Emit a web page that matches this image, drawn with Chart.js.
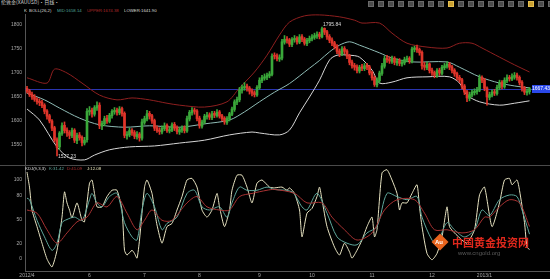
<!DOCTYPE html>
<html lang="zh-CN">
<head>
<meta charset="UTF-8">
<title>伦敦金 日线 BOLL KDJ</title>
<script src="https://cdn.jsdelivr.net/npm/chart.js"></script>
<style>
  body { margin:0; width:550px; height:279px; background:#000; overflow:hidden; position:relative;
         font-family:"Liberation Sans", Arial, sans-serif; }
  canvas { position:absolute; left:0; }
  .t { position:absolute; font-size:6px; line-height:7px; white-space:nowrap; z-index:5;
       transform:scale(0.72); transform-origin:left top; }
  .sep { position:absolute; left:0; width:550px; height:1px; background:#4a4a4a; z-index:4; }
  .tool { position:absolute; top:1px; width:6px; height:6px; background:#4c4c4c; border:1px solid #6a6a6a; box-sizing:border-box; z-index:5; }
</style>
</head>
<body>

<div class="t" style="left:1px;top:0;color:#cfcfcf;font-family:'Noto Sans CJK SC';font-size:7px">伦敦金(XAUUSD)·日线·</div>
<div id="tools"></div>

<div class="t" style="left:24px;top:8px;color:#ddd">K</div>
<div class="t" style="left:29px;top:8px;color:#ddd">BOLL(26,2)</div>
<div class="t" id="legMid" style="left:57px;top:8px;color:#4fa79c"></div>
<div class="t" id="legUp" style="left:87px;top:8px;color:#b02a2a"></div>
<div class="t" id="legLow" style="left:124px;top:8px;color:#ddd"></div>

<canvas id="main" width="550" height="151" style="top:14px"></canvas>
<div class="sep" style="top:165px"></div>
<canvas id="kdj" width="550" height="113" style="top:166px"></canvas>

<div class="t" style="left:25px;top:166px;color:#ddd">KDJ(9,3,3)</div>
<div class="t" id="legK" style="left:49px;top:166px;color:#5fa89c"></div>
<div class="t" id="legD" style="left:67px;top:166px;color:#b03030"></div>
<div class="t" id="legJ" style="left:87px;top:166px;color:#e6e2b8"></div>

<!-- watermark -->
<div style="position:absolute;left:434px;top:236px;width:12px;height:12px;background:#e8641e;transform:rotate(45deg);z-index:6"></div>
<div style="position:absolute;left:435px;top:239px;color:#fff;font-size:6px;line-height:7px;font-weight:bold;z-index:7">Au</div>
<div style="position:absolute;left:452px;top:236px;color:#e0281c;font-size:11px;line-height:12px;font-family:'Noto Sans CJK SC';font-weight:bold;z-index:6;white-space:nowrap">中国黄金投资网</div>
<div style="position:absolute;left:458px;top:250px;color:#5a5a5a;font-size:6px;line-height:7px;z-index:6">www.cngold.org</div>

<script>
// daily candles, 2012/4 .. 2013/1 (index = trading day)
var opens = [
  1668,1663,1656,1651,1646,1641,1639,1633,1621,1611,
  1600,1586,1561,1546,1574,1591,1581,1576,1569,1581,
  1559,1571,1566,1554,1561,1619,1623,1614,1627,1633,
  1589,1594,1606,1599,1611,1619,1623,1617,1626,1616,
  1569,1571,1581,1576,1567,1573,1564,1597,1604,1616,
  1611,1601,1586,1581,1577,1584,1591,1579,1581,1593,
  1586,1577,1581,1586,1579,1604,1617,1623,1621,1606,
  1589,1597,1609,1613,1607,1616,1611,1619,1611,1606,
  1597,1604,1614,1624,1639,1644,1664,1669,1673,1669,
  1663,1659,1654,1669,1684,1689,1691,1694,1697,1736,
  1736,1729,1731,1764,1771,1769,1759,1769,1773,1764,
  1776,1771,1761,1767,1771,1774,1777,1781,1775,1793,
  1786,1776,1769,1763,1756,1746,1739,1751,1746,1736,
  1723,1716,1713,1704,1713,1709,1716,1713,1701,1691,
  1675,1684,1699,1714,1731,1729,1724,1731,1721,1726,
  1719,1721,1727,1731,1724,1749,1753,1749,1743,1716,
  1711,1719,1706,1701,1694,1706,1699,1711,1714,1719,
  1713,1706,1699,1691,1686,1673,1661,1647,1654,1659,
  1661,1664,1691,1686,1669,1649,1654,1661,1657,1669,
  1681,1671,1684,1691,1687,1691,1696,1691,1681,1669,
  1659,1661];
var highs = [
  1672,1666,1660,1655,1649,1646,1643,1636,1624,1614,
  1603,1589,1565,1578,1596,1598,1586,1580,1585,1584,
  1575,1576,1569,1566,1626,1630,1627,1632,1640,1638,
  1600,1610,1612,1616,1624,1628,1627,1630,1629,1619,
  1578,1585,1584,1580,1578,1576,1604,1610,1622,1620,
  1614,1604,1590,1586,1590,1596,1594,1588,1596,1597,
  1590,1587,1590,1590,1610,1622,1628,1627,1624,1610,
  1602,1614,1618,1617,1620,1620,1624,1622,1614,1609,
  1609,1618,1629,1644,1650,1670,1675,1680,1677,1672,
  1667,1663,1674,1690,1695,1698,1700,1703,1740,1742,
  1740,1738,1770,1778,1776,1772,1774,1778,1776,1780,
  1780,1774,1772,1777,1780,1783,1786,1785,1795.84,1794,
  1789,1780,1773,1766,1759,1750,1755,1755,1749,1739,
  1727,1720,1717,1716,1718,1720,1720,1716,1704,1694,
  1690,1704,1720,1735,1737,1734,1735,1734,1730,1730,
  1727,1733,1735,1734,1754,1756,1758,1752,1746,1722,
  1723,1721,1710,1704,1709,1710,1716,1720,1724,1722,
  1716,1709,1702,1695,1689,1676,1664,1660,1665,1667,
  1670,1696,1694,1689,1671,1660,1665,1666,1675,1685,
  1684,1690,1696,1695,1698,1701,1700,1694,1684,1672,
  1667,1670];
var lows = [
  1658,1651,1645,1641,1635,1632,1628,1615,1604,1596,
  1580,1556,1527.23,1540,1570,1575,1568,1563,1565,1555,
  1553,1560,1548,1550,1556,1612,1608,1610,1622,1584,
  1582,1590,1595,1596,1606,1614,1612,1613,1610,1565,
  1562,1567,1570,1563,1562,1558,1560,1593,1600,1604,
  1595,1580,1576,1572,1573,1580,1576,1575,1578,1580,
  1573,1572,1576,1575,1576,1600,1612,1614,1600,1585,
  1585,1594,1604,1603,1603,1607,1608,1606,1600,1593,
  1593,1600,1611,1620,1634,1640,1658,1664,1662,1656,
  1652,1650,1651,1666,1680,1685,1686,1690,1694,1729,
  1725,1724,1727,1760,1762,1755,1755,1764,1760,1761,
  1765,1758,1757,1763,1767,1770,1772,1771,1773,1780,
  1770,1763,1757,1750,1740,1734,1736,1740,1730,1717,
  1710,1706,1700,1700,1705,1705,1707,1696,1685,1672,
  1671,1680,1695,1710,1722,1720,1720,1717,1716,1715,
  1714,1717,1723,1720,1721,1744,1743,1737,1708,1706,
  1707,1700,1695,1690,1691,1695,1696,1707,1710,1707,
  1700,1693,1685,1680,1667,1655,1640,1642,1650,1654,
  1656,1661,1680,1663,1633,1644,1650,1653,1654,1665,
  1667,1668,1680,1683,1684,1687,1685,1675,1662,1655,
  1654,1656];
var closes = [
  1662,1655,1650,1645,1640,1638,1632,1620,1610,1600,
  1585,1560,1545,1575,1590,1580,1575,1570,1580,1560,
  1570,1565,1555,1560,1620,1622,1615,1628,1632,1590,
  1595,1605,1600,1612,1620,1622,1618,1625,1615,1570,
  1572,1580,1575,1568,1572,1565,1598,1605,1615,1610,
  1600,1585,1580,1578,1585,1590,1580,1582,1592,1585,
  1578,1582,1585,1580,1605,1618,1622,1620,1605,1590,
  1598,1610,1612,1608,1615,1612,1618,1610,1605,1598,
  1605,1615,1625,1640,1645,1665,1670,1672,1668,1662,
  1658,1655,1670,1685,1690,1692,1695,1698,1735,1735,
  1730,1732,1765,1770,1768,1760,1770,1772,1765,1775,
  1770,1762,1768,1772,1775,1778,1780,1776,1792,1785,
  1775,1768,1762,1755,1745,1740,1750,1745,1735,1722,
  1715,1712,1705,1712,1710,1715,1712,1700,1690,1676,
  1685,1700,1715,1730,1728,1725,1730,1722,1725,1720,
  1722,1728,1730,1725,1750,1752,1748,1742,1715,1712,
  1718,1705,1700,1695,1705,1700,1712,1715,1718,1712,
  1705,1698,1690,1685,1672,1660,1648,1655,1660,1662,
  1665,1690,1685,1668,1650,1655,1660,1658,1670,1680,
  1672,1685,1690,1688,1692,1695,1690,1680,1668,1660,
  1662,1667.43];

// Bollinger bands, read at these day indexes
var upperIdx = [0,8,11,16,22,29,36,42,49,56,61,71,80,85,91,96,101,105,111,117,125,131,134,141,146,152,160,168,173,178,182,189,195,201];
var upperVal = [1690,1679,1708,1700,1679,1654,1644,1648,1644,1637,1633,1629,1640,1669,1702,1737,1779,1806,1819,1821,1817,1810,1804,1804,1783,1762,1754,1752,1762,1762,1752,1733,1717,1702];
var midIdx = [0,7,13,21,29,39,49,61,71,81,87,93,99,105,113,117,121,125,129,133,141,146,154,168,173,181,189,195,201];
var midVal = [1658,1644,1627,1606,1592,1587,1590,1587,1594,1602,1619,1640,1660,1678,1710,1726,1744,1758,1765,1758,1742,1731,1723,1723,1712,1692,1679,1673,1669];
var lowerIdx = [0,5,12,17,23,27,33,41,51,61,71,81,90,93,101,105,109,113,117,121,124,129,133,138,141,146,152,160,169,173,176,181,189,195,201];
var lowerVal = [1625,1602,1546,1523,1519,1529,1540,1546,1548,1554,1560,1571,1577,1575,1571,1581,1617,1650,1685,1727,1737,1737,1733,1706,1679,1681,1690,1692,1692,1679,1654,1640,1633,1637,1642];

// KDJ(9,3,3), read at these day indexes
var kIdx = [0,1,4,7,10,12,14,16,19,22,25,26,28,30,33,36,39,42,44,46,48,51,54,56,60,64,67,70,73,77,80,82,85,88,92,96,99,106,110,112,116,120,124,128,132,136,140,144,148,152,156,158,162,164,168,171,175,179,182,185,189,193,196,198,201];
var kVal = [77,75,49,28,11,20,46,50,53,49,75,83,71,66,79,83,46,28,24,62,83,66,37,45,53,83,87,66,62,66,53,71,91,87,87,91,88,85,66,62,83,58,28,20,18,33,41,83,79,75,79,53,24,20,46,37,28,37,62,55,75,81,79,62,31.42];
var dIdx = [0,4,8,12,16,20,24,28,32,36,40,44,47,50,54,58,64,68,72,77,81,85,90,96,99,107,112,118,122,127,132,138,143,148,155,159,163,168,174,179,183,185,189,193,197,201];
var dVal = [62,58,37,20,33,47,53,71,66,79,58,37,49,62,49,49,71,79,66,62,62,79,83,87,88,83,71,71,53,37,24,33,62,75,75,58,37,37,33,37,53,53,66,75,71,41.09];
var jIdx = [0,1,2,4,6,8,10,12,14,15,16,17,18,20,22,23,25,26,27,28,30,32,34,36,38,39,40,42,43,44,45,47,48,50,51,52,54,56,58,60,62,64,66,68,70,72,74,76,77,79,81,82,84,86,88,90,92,94,97,99,102,104,105,107,109,110,112,114,116,117,118,120,123,125,127,129,130,132,134,136,138,139,140,142,144,146,148,149,150,152,154,156,157,158,160,162,164,166,168,169,171,174,176,179,181,183,186,189,191,193,194,196,197,199,200,201];
var jVal = [110,91,62,41,20,0,-10,11,53,85,71,62,52,71,49,47,96,100,83,66,66,79,87,87,62,11,5,11,7,1,24,91,100,83,62,43,20,41,45,62,79,100,102,91,62,53,62,83,66,41,62,87,106,106,91,71,96,100,91,90,91,87,90,83,62,28,58,64,79,91,75,41,15,5,20,9,1,11,24,41,53,28,37,109,113,100,83,62,71,71,83,94,66,41,7,-1,7,28,66,41,33,24,20,37,81,91,41,71,100,102,94,100,87,46,15,12.08];

// axis labels
var priceTicks = [1550, 1600, 1650, 1700, 1750, 1800];
var kdjTicks = [0, 20, 50, 80, 100];
var monthIdx = [0, 25, 47, 69, 93, 114, 138, 162, 183];
var monthLbl = ['2012/4', '6', '7', '8', '9', '10', '11', '12', '2013/1'];

// header values
var bollMid = '1658.14', bollUpper = '1674.38', bollLower = '1641.90';

var UP = '#3aa83a', DOWN = '#e0352a';
var X_MIN = -0.8, X_MAX = 209.2;

document.getElementById('legMid').textContent = 'MID:' + bollMid;
document.getElementById('legUp').textContent = 'UPPER:' + bollUpper;
document.getElementById('legLow').textContent = 'LOWER:' + bollLower;
document.getElementById('legK').textContent = 'K:' + kVal[kVal.length - 1];
document.getElementById('legD').textContent = 'D:' + dVal[dVal.length - 1];
document.getElementById('legJ').textContent = 'J:' + jVal[jVal.length - 1];

// toolbar buttons top right
var tools = document.getElementById('tools');
for (var k = 0; k < 19; k++) {
    var b = document.createElement('div');
    b.className = 'tool';
    b.style.left = (368 + k * 10) + 'px';
    if (k === 8 || k === 16) { b.style.background = '#c9a032'; b.style.borderColor = '#e6c050'; }
    tools.appendChild(b);
}

Chart.defaults.font.family = '"Liberation Sans", Arial, sans-serif';
Chart.defaults.font.size = 5;
Chart.defaults.color = '#a8a8a8';

function pts(xs, ys) {
    return xs.map(function (x, n) { return { x: x, y: ys[n] }; });
}

var days = closes.map(function (c, i) { return i; });
var wickData = days.map(function (i) { return { x: i, y: [lows[i], highs[i]] }; });
var bodyData = days.map(function (i) { return { x: i, y: [opens[i], closes[i]] }; });
var candleColor = days.map(function (i) { return closes[i] >= opens[i] ? UP : DOWN; });

// blue last-price line, its tag and the high / low notes
var marks = {
    id: 'marks',
    beforeDatasetsDraw: function (chart) {
        var ctx = chart.ctx, area = chart.chartArea, y = chart.scales.y;
        var py = Math.round(y.getPixelForValue(closes[closes.length - 1])) + 0.5;
        ctx.save();
        ctx.strokeStyle = '#2a35b0';
        ctx.lineWidth = 1;
        ctx.beginPath();
        ctx.moveTo(area.left, py);
        ctx.lineTo(area.right - 18, py);
        ctx.stroke();
        ctx.restore();
    },
    afterDatasetsDraw: function (chart) {
        var ctx = chart.ctx, area = chart.chartArea, x = chart.scales.x, y = chart.scales.y;
        var last = closes[closes.length - 1];
        var py = Math.round(y.getPixelForValue(last));
        ctx.save();
        ctx.fillStyle = '#2a48ea';
        ctx.fillRect(area.right - 18, py - 4, 18, 8);
        ctx.fillStyle = '#fff';
        ctx.font = '5px "Liberation Sans", Arial';
        ctx.textAlign = 'center';
        ctx.textBaseline = 'middle';
        ctx.fillText(last.toFixed(2), area.right - 9, py);

        var hi = highs.indexOf(Math.max.apply(null, highs));
        var lo = lows.indexOf(Math.min.apply(null, lows));
        ctx.fillStyle = '#dcdcdc';
        ctx.textAlign = 'left';
        ctx.fillText(highs[hi].toFixed(2), x.getPixelForValue(hi) + 1, y.getPixelForValue(highs[hi]) - 2);
        ctx.fillText(lows[lo].toFixed(2), x.getPixelForValue(lo) + 1, y.getPixelForValue(lows[lo]) + 1);
        ctx.restore();
    }
};

function yAxis(min, max, ticks) {
    return {
        min: min, max: max,
        grid: { display: false, drawTicks: false },
        border: { color: '#555' },
        ticks: { color: '#a8a8a8', padding: 3, callback: function (v) { return String(v); } },
        afterBuildTicks: function (s) { s.ticks = ticks.map(function (v) { return { value: v }; }); },
        afterFit: function (s) { s.width = 25; s.paddingTop = 0; s.paddingBottom = 0; }
    };
}

var common = {
    responsive: false,
    animation: false,
    devicePixelRatio: 1,
    layout: { padding: 0 },
    plugins: { legend: { display: false }, tooltip: { enabled: false } }
};

var lineStyle = { type: 'line', pointRadius: 0, borderWidth: 1, tension: 0.3, fill: false };

new Chart(document.getElementById('main'), {
    type: 'bar',
    data: {
        datasets: [
            Object.assign({ data: pts(upperIdx, upperVal), borderColor: '#8e1f1f', order: 4 }, lineStyle),
            Object.assign({ data: pts(midIdx, midVal), borderColor: '#8fbcb6', order: 4 }, lineStyle),
            Object.assign({ data: pts(lowerIdx, lowerVal), borderColor: '#d6d6d6', order: 4 }, lineStyle),
            { data: wickData, backgroundColor: candleColor, barThickness: 1, grouped: false, order: 2 },
            { data: bodyData, backgroundColor: candleColor, barThickness: 2, grouped: false, minBarLength: 1, order: 1 }
        ]
    },
    options: Object.assign({}, common, {
        scales: {
            x: { type: 'linear', min: X_MIN, max: X_MAX, display: false, offset: false },
            y: yAxis(1508.3, 1822.9, priceTicks)
        }
    }),
    plugins: [marks]
});

new Chart(document.getElementById('kdj'), {
    type: 'line',
    data: {
        datasets: [
            Object.assign({ data: pts(dIdx, dVal), borderColor: '#a83232' }, lineStyle),
            Object.assign({ data: pts(kIdx, kVal), borderColor: '#5fa89c' }, lineStyle),
            Object.assign({ data: pts(jIdx, jVal), borderColor: '#e6e2c0' }, lineStyle, { tension: 0.2 })
        ]
    },
    options: Object.assign({}, common, {
        scales: {
            x: {
                type: 'linear', min: X_MIN, max: X_MAX, offset: false,
                grid: { display: false, drawTicks: false },
                border: { color: '#555' },
                ticks: {
                    color: '#a8a8a8', padding: 2, autoSkip: false, maxRotation: 0,
                    callback: function (v, n) { return monthLbl[n]; }
                },
                afterBuildTicks: function (s) { s.ticks = monthIdx.map(function (v) { return { value: v }; }); },
                afterFit: function (s) { s.height = 8; s.paddingLeft = 0; s.paddingRight = 0; }
            },
            y: yAxis(-15.2, 117.7, kdjTicks)
        }
    })
});
</script>
</body>
</html>
